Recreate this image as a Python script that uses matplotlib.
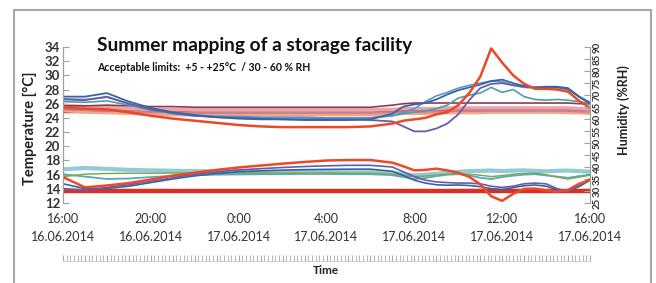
import matplotlib
matplotlib.use("Agg")
import matplotlib.pyplot as plt
from matplotlib.patches import Rectangle
from matplotlib.ticker import MultipleLocator

plt.rcParams['font.family'] = ['Lato', 'DejaVu Sans']

# time axis: hours after 16:00 on 16.06.2014
hours = [0, 1, 2, 3, 4, 5, 6, 7, 8, 9, 10, 11, 12, 13, 14, 15,
         15.5, 16, 16.5, 17, 17.5, 18, 18.5, 19, 19.5, 20, 20.5,
         21, 21.5, 22, 22.5, 23, 23.5, 24]
tick_hours = [0, 4, 8, 12, 16, 20, 24]
tick_labels = ['16:00\n16.06.2014', '20:00\n16.06.2014', '0:00\n17.06.2014',
               '4:00\n17.06.2014', '8:00\n17.06.2014', '12:00\n17.06.2014',
               '16:00\n17.06.2014']

temp_ticks = [12, 14, 16, 18, 20, 22, 24, 26, 28, 30, 32, 34]
hum_ticks = [25, 30, 35, 40, 45, 50, 55, 60, 65, 70, 75, 80, 85, 90]
temp_limit = 25
hum_limit = 30

# temperature loggers [°C]
temp_pink = [25.8, 25.6, 25.5, 25.3, 25.2, 25.2, 25.1, 25.1, 25.1, 25.1, 25.1, 25.1,
             25.1, 25.1, 25.1, 25.2, 25.3, 25.3, 25.3, 25.3, 25.4, 25.4, 25.4, 25.4,
             25.4, 25.4, 25.4, 25.4, 25.4, 25.4, 25.4, 25.4, 25.3, 25.2]
temp_rose = [25.2, 25.1, 25.0, 24.9, 24.8, 24.8, 24.7, 24.7, 24.7, 24.7, 24.7, 24.7,
             24.7, 24.7, 24.7, 24.8, 24.8, 24.9, 24.9, 24.9, 24.9, 25.0, 25.0, 25.0,
             25.0, 25.0, 25.0, 25.0, 25.0, 25.0, 25.0, 25.0, 24.9, 24.9]
temp_salmon = [25.0, 24.8, 24.7, 24.6, 24.5, 24.4, 24.4, 24.4, 24.4, 24.4, 24.4, 24.4,
               24.4, 24.4, 24.4, 24.5, 24.6, 24.6, 24.6, 24.7, 24.7, 24.7, 24.7, 24.7,
               24.8, 24.8, 24.8, 24.8, 24.8, 24.8, 24.8, 24.7, 24.7, 24.6]
temp_maroon = [25.7, 25.7, 25.8, 25.7, 25.6, 25.6, 25.5, 25.5, 25.5, 25.5, 25.5, 25.5,
               25.5, 25.5, 25.5, 25.8, 26.0, 26.1, 26.1, 26.1, 26.1, 26.1, 26.1, 26.1,
               26.1, 26.1, 26.1, 26.1, 26.1, 26.1, 26.1, 26.1, 26.0, 26.0]
temp_blue = [27.0, 27.0, 27.5, 26.3, 25.4, 24.8, 24.4, 24.1, 23.9, 23.8, 23.8, 23.7,
             23.7, 23.7, 23.8, 24.6, 25.6, 25.9, 26.1, 26.6, 27.3, 27.9, 28.3, 28.7,
             29.2, 29.4, 28.9, 28.5, 28.3, 28.4, 28.4, 28.2, 27.0, 26.0]
temp_steel = [26.7, 26.6, 26.9, 26.0, 25.2, 24.7, 24.4, 24.2, 24.1, 24.0, 24.0, 24.0,
              23.9, 23.9, 24.0, 24.3, 24.8, 25.3, 26.3, 27.1, 27.6, 28.2, 28.6, 28.9,
              29.2, 29.1, 28.6, 28.3, 28.2, 28.3, 28.3, 28.0, 27.0, 26.2]
temp_teal = [26.3, 26.2, 26.4, 25.8, 25.1, 24.6, 24.3, 24.2, 24.2, 24.1, 24.1, 24.1,
             24.0, 24.0, 24.0, 24.3, 24.6, 24.8, 25.0, 25.3, 25.8, 26.8, 27.2, 27.5,
             28.3, 27.6, 28.0, 27.0, 26.6, 26.5, 26.6, 26.5, 26.3, 26.0]
temp_purple = [26.6, 26.5, 27.0, 26.0, 25.2, 24.7, 24.3, 24.1, 24.0, 23.9, 23.8, 23.8,
               23.8, 23.8, 23.7, 23.5, 22.8, 22.1, 22.1, 22.5, 23.2, 24.5, 26.5, 28.2,
               28.8, 28.9, 28.6, 28.4, 28.3, 28.3, 28.3, 28.1, 27.0, 26.1]
temp_red = [25.4, 25.3, 25.2, 24.8, 24.3, 23.9, 23.6, 23.3, 23.0, 22.8, 22.7, 22.7,
            22.7, 22.7, 22.8, 23.2, 23.6, 23.8, 24.0, 24.5, 24.8, 25.8, 27.5, 29.8,
            33.8, 31.8, 30.0, 28.8, 28.1, 28.1, 28.0, 27.7, 26.4, 25.4]

# humidity loggers [%RH]
hum_teal = [39.0, 39.6, 39.2, 38.8, 38.6, 38.4, 38.3, 38.2, 38.1, 38.0, 38.0, 37.9,
            37.9, 37.8, 37.8, 37.6, 37.0, 36.6, 36.8, 37.2, 37.6, 38.0, 38.3, 38.4,
            38.5, 38.3, 38.5, 38.6, 38.4, 38.2, 38.4, 38.5, 38.3, 38.0]
hum_cyan = [37.0, 36.0, 35.0, 35.2, 35.8, 36.3, 36.6, 36.8, 36.9, 37.0, 37.0, 37.1,
            37.1, 37.0, 37.0, 36.6, 35.8, 35.0, 35.4, 36.2, 36.8, 37.0, 36.5, 35.5,
            35.0, 35.8, 36.4, 36.8, 37.0, 36.5, 36.0, 35.5, 36.2, 36.8]
hum_green = [36.0, 37.0, 37.3, 37.4, 37.4, 37.5, 37.5, 37.5, 37.5, 37.5, 37.5, 37.5,
             37.5, 37.4, 37.4, 37.0, 36.5, 36.0, 36.2, 36.6, 37.0, 37.2, 37.0, 36.6,
             36.0, 36.4, 37.0, 37.3, 37.5, 36.8, 35.8, 35.0, 35.8, 36.6]
hum_blue = [33.0, 31.0, 31.0, 32.0, 33.5, 35.0, 36.3, 37.3, 38.0, 38.4, 38.7, 38.9,
            39.0, 39.1, 39.1, 38.2, 36.5, 34.5, 33.3, 32.6, 32.4, 32.5, 32.3, 31.8,
            31.0, 30.6, 31.4, 32.2, 32.5, 32.0, 30.5, 30.0, 31.8, 34.5]
hum_purple = [31.0, 30.4, 31.5, 32.6, 34.0, 35.5, 37.0, 38.0, 38.8, 39.3, 39.8, 40.2,
              40.5, 40.7, 40.7, 40.0, 38.0, 36.0, 34.5, 33.8, 33.5, 33.3, 33.3, 33.0,
              32.0, 31.5, 32.0, 33.0, 33.3, 33.0, 31.0, 29.8, 32.5, 35.0]
hum_red = [35.8, 31.5, 32.3, 33.3, 34.8, 36.4, 37.6, 38.8, 39.8, 40.6, 41.4, 42.1,
           42.7, 42.9, 42.9, 41.8, 40.3, 38.6, 38.8, 39.3, 38.6, 37.6, 35.9, 32.8,
           27.8, 25.9, 28.8, 30.9, 31.0, 30.3, 29.7, 30.4, 33.0, 34.6]

fig = plt.figure(figsize=(6.56, 2.83), dpi=100)
fig.patch.set_facecolor('white')

# grey frame around the whole figure (bottom edge is cut off)
fig.patches.append(Rectangle((14 / 656, -0.05), 637 / 656, 1.05 - 10 / 283,
                             transform=fig.transFigure, fill=False,
                             edgecolor='#a8a8a8', linewidth=1.5))

ax = fig.add_axes([63 / 656, 1 - 203 / 283, 527 / 656, 156 / 283])
ax2 = ax.twinx()

ax.axhline(temp_limit, color='#d9301f', lw=3.2, zorder=1)
for vals, col, lw in [(temp_pink, '#eaa3a6', 2.5), (temp_salmon, '#f2a58a', 2.0),
                      (temp_rose, '#c98290', 1.5), (temp_maroon, '#8e3b4f', 1.2),
                      (temp_teal, '#4c9fa6', 1.2), (temp_steel, '#5f95c8', 1.2),
                      (temp_purple, '#6b5ba6', 1.3), (temp_blue, '#3465a4', 1.3),
                      (temp_red, '#ec4a26', 1.8)]:
    ax.plot(hours, vals, color=col, lw=lw, zorder=2)

ax2.axhline(hum_limit, color='#d9301f', lw=3.2, zorder=1)
for vals, col, lw in [(hum_teal, '#93cbd4', 3.0), (hum_cyan, '#5aa7b5', 1.3),
                      (hum_green, '#79a95a', 1.1), (hum_blue, '#3465a4', 1.2),
                      (hum_purple, '#6b5ba6', 1.2), (hum_red, '#ec4a26', 1.8)]:
    ax2.plot(hours, vals, color=col, lw=lw, zorder=2)

ax.set_xlim(0, 24)
ax.set_ylim(12, 34)
ax2.set_ylim(25, 90)
ax.set_xticks(tick_hours)
ax.set_xticklabels(tick_labels, fontsize=9, color='#333333', linespacing=1.6)
ax.set_yticks(temp_ticks)
ax.set_yticklabels([str(t) for t in temp_ticks], fontsize=9.5,
                   fontweight='bold', color='#333333')
ax2.set_yticks(hum_ticks)
ax2.set_yticklabels([str(t) for t in hum_ticks], fontsize=7,
                    fontweight='bold', color='#333333', rotation=90, va='center')

for a in (ax, ax2):
    a.spines['top'].set_visible(False)
    a.spines['bottom'].set_visible(False)
    a.spines['left'].set_color('#a0a0a0')
    a.spines['right'].set_color('#a0a0a0')
    a.set_facecolor('none')
ax.tick_params(axis='x', length=0, pad=7)
ax.tick_params(axis='y', direction='in', length=4, color='#a0a0a0', pad=2)
ax2.tick_params(axis='y', direction='in', length=4, color='#a0a0a0', pad=2)

fig.text(30 / 656, 1 - 128 / 283, 'Temperature [°C]', rotation=90,
         ha='center', va='center', fontsize=10.5, fontweight='bold', color='#222222')
fig.text(624 / 656, 1 - 110 / 283, 'Humidity (%RH)', rotation=90,
         ha='center', va='center', fontsize=9, fontweight='bold', color='#222222')

fig.text(97 / 656, 1 - 45 / 283, 'Summer mapping of a storage facility',
         ha='left', va='center', fontsize=13.8, fontweight='bold', color='#111111')
fig.text(97 / 656, 1 - 68 / 283, 'Acceptable limits:  +5 - +25°C  / 30 - 60 % RH',
         ha='left', va='center', fontsize=7.6, fontweight='bold', color='#111111')

# row of small time ticks under the date labels
axt = fig.add_axes([63 / 656, 1 - 261 / 283, 527 / 656, 0.001])
axt.set_xlim(0, 24)
axt.set_yticks([])
for s in ('top', 'left', 'right'):
    axt.spines[s].set_visible(False)
axt.spines['bottom'].set_color('#d0d0d0')
axt.xaxis.set_major_locator(MultipleLocator(1))
axt.xaxis.set_minor_locator(MultipleLocator(1 / 6))
axt.tick_params(axis='x', which='both', direction='in', length=4,
                color='#a8a8a8', labelbottom=False)
axt.patch.set_visible(False)

fig.text(326 / 656, 1 - 271 / 283, 'Time', ha='center', va='center',
         fontsize=8.5, fontweight='bold', color='#222222')

fig.savefig('out.png', dpi=100, facecolor='white')
